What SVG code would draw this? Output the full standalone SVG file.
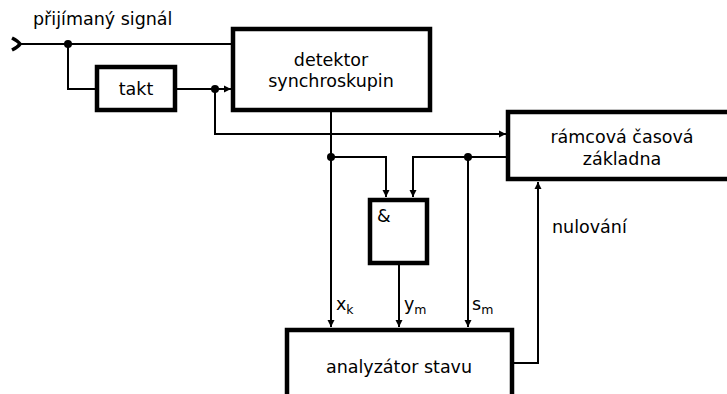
<svg xmlns="http://www.w3.org/2000/svg" width="727" height="394" viewBox="0 0 727 394">
<style>
.box{fill:#fff;stroke:#000;stroke-width:4.5}
.ln{fill:none;stroke:#000;stroke-width:2}
.t{font-family:"DejaVu Sans","Liberation Sans",sans-serif;font-size:17.5px;fill:#000;text-anchor:middle}
.l{font-family:"DejaVu Sans","Liberation Sans",sans-serif;font-size:17.5px;fill:#000}
.s{font-size:12.5px}
.dot{fill:#000}
</style>
<defs>
<marker id="ah" markerWidth="8" markerHeight="8" refX="7" refY="4" orient="auto" markerUnits="userSpaceOnUse">
<path d="M0,0.5 L7,4 L0,7.5 Z" fill="#000"/>
</marker>
</defs>
<rect width="727" height="394" fill="#fff"/>
<g id="connectors">
<path class="ln" d="M12,38 Q18,41 20,44 Q18,47 12,50" style="stroke-width:3.5"/>
<path class="ln" d="M19,44 H233"/>
<path class="ln" d="M68,44 V89 H97"/>
<path class="ln" d="M175,89 H231" marker-end="url(#ah)"/>
<path class="ln" d="M215,89 V134 H506" marker-end="url(#ah)"/>
<path class="ln" d="M331,110 V327" marker-end="url(#ah)"/>
<path class="ln" d="M331,157 H386 V197" marker-end="url(#ah)"/>
<path class="ln" d="M508,157 H413 V197" marker-end="url(#ah)"/>
<path class="ln" d="M468,157 V327" marker-end="url(#ah)"/>
<path class="ln" d="M399,264 V327" marker-end="url(#ah)"/>
<path class="ln" d="M512,363 H538 V182" marker-end="url(#ah)"/>
<circle class="dot" cx="68" cy="44" r="4"/>
<circle class="dot" cx="215" cy="89" r="4"/>
<circle class="dot" cx="331" cy="157" r="4"/>
<circle class="dot" cx="468" cy="157" r="4"/>
</g>
<text class="l" x="33" y="25">přijímaný signál</text>
<g id="takt">
<rect class="box" x="97" y="67" width="78" height="43"/>
<text class="t" x="136" y="95">takt</text>
</g>
<g id="detektor">
<rect class="box" x="233" y="29" width="197" height="81"/>
<text class="t" x="331" y="66">detektor</text>
<text class="t" x="331" y="87">synchroskupin</text>
</g>
<g id="ramcova">
<rect class="box" x="508" y="112" width="230" height="67"/>
<text class="t" x="622" y="143">rámcová časová</text>
<text class="t" x="622" y="165">základna</text>
</g>
<g id="and">
<rect class="box" x="370" y="200" width="57" height="63"/>
<text class="l" x="377" y="222">&amp;</text>
</g>
<g id="analyzator">
<rect class="box" x="287" y="330" width="225" height="80"/>
<text class="t" x="399" y="373">analyzátor stavu</text>
</g>
<text class="l" x="552" y="233">nulování</text>
<text class="l" x="336" y="310">x<tspan class="s" dy="4">k</tspan></text>
<text class="l" x="404" y="310">y<tspan class="s" dy="4">m</tspan></text>
<text class="l" x="472" y="310">s<tspan class="s" dy="4">m</tspan></text>
</svg>
